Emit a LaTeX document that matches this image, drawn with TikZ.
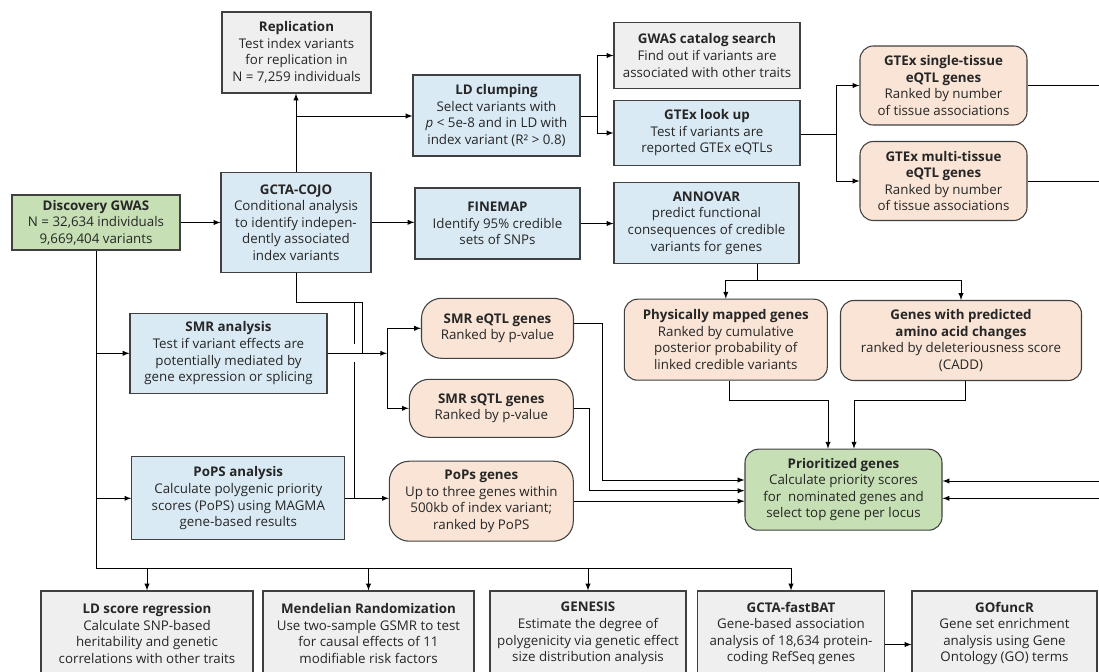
\documentclass[tikz,border=0pt]{standalone}
\usepackage{fontspec}
\setmainfont{Open Sans}
\usepackage{xcolor}
\definecolor{boxblue}{HTML}{DAEAF4}
\definecolor{boxgray}{HTML}{EFEFEF}
\definecolor{boxgreen}{HTML}{C6DFB4}
\definecolor{boxpeach}{HTML}{F9E4D6}
\definecolor{edge}{HTML}{404040}
\definecolor{ink}{HTML}{262626}

\begin{document}
\begin{tikzpicture}[x=0.75pt,y=-0.75pt,
  font=\fontsize{10}{12.4}\selectfont,
  box/.style={draw=edge,line width=0.8pt,align=center,inner sep=0pt,text=ink},
  bluebox/.style={box,fill=boxblue},
  graybox/.style={box,fill=boxgray},
  greenbox/.style={box,fill=boxgreen},
  genebox/.style={box,fill=boxpeach,rounded corners=10pt},
  pillbox/.style={genebox,rounded corners=15pt},
  link/.style={line width=0.75pt},
  arr/.style={link,-latex}]
\useasboundingbox (0,0) rectangle (1099,671);
\clip (0,0) rectangle (1099,671);

% discovery and follow-up
\node[greenbox,minimum width=126pt,minimum height=41.25pt] (disc) at (96,222.5)
  {\textbf{Discovery GWAS}\\N = 32,634 individuals\\9,669,404 variants};
\node[bluebox,minimum width=112.5pt,minimum height=75pt] (cojo) at (296,222.3)
  {\textbf{GCTA-COJO}\\Conditional analysis\\to identify indepen-\\dently associated\\index variants};
\node[graybox,minimum width=111.75pt,minimum height=60.75pt] (repl) at (296.5,52.5)
  {\textbf{Replication}\\Test index variants\\for replication in\\N = 7,259 individuals};
\node[bluebox,minimum width=125.25pt,minimum height=60.75pt] (ldc) at (496.5,115.5)
  {\textbf{LD clumping}\\Select variants with\\\textit{p} < 5e-8 and in LD with\\index variant (R² > 0.8)};
\node[graybox,minimum width=139.5pt,minimum height=49.5pt] (cat) at (707,55.5)
  {\textbf{GWAS catalog search}\\Find out if variants are\\associated with other traits};
\node[bluebox,minimum width=139.5pt,minimum height=48.75pt] (gtl) at (707,133)
  {\textbf{GTEx look up}\\Test if variants are\\reported GTEx eQTLs};
\node[bluebox,minimum width=123.75pt,minimum height=53.25pt] (fine) at (497.5,223.5)
  {\textbf{FINEMAP}\\Identify 95\% credible\\sets of SNPs};
\node[bluebox,minimum width=138.75pt,minimum height=60.75pt] (annov) at (706.5,223)
  {\textbf{ANNOVAR}\\predict functional\\consequences of credible\\variants for genes};
\node[genebox,minimum width=125.25pt,minimum height=59.25pt] (single) at (943.5,85.5)
  {\textbf{GTEx single-tissue}\\\textbf{eQTL genes}\\Ranked by number\\of tissue associations};
\node[genebox,minimum width=125.25pt,minimum height=59.25pt] (multi) at (943.5,181)
  {\textbf{GTEx multi-tissue}\\\textbf{eQTL genes}\\Ranked by number\\of tissue associations};

% gene nominating steps
\node[bluebox,minimum width=147.75pt,minimum height=60pt] (smr) at (228.5,353.3)
  {\textbf{SMR analysis}\\Test if variant effects are\\potentially mediated by\\gene expression or splicing};
\node[bluebox,minimum width=159.75pt,minimum height=62.25pt] (pops) at (238.3,498.3)
  {\textbf{PoPS analysis}\\Calculate polygenic priority\\scores (PoPS) using MAGMA\\gene-based results};
\node[pillbox,minimum width=114pt,minimum height=45pt] (eqtl) at (497.5,328.3)
  {\textbf{SMR eQTL genes}\\Ranked by p-value};
\node[pillbox,minimum width=123pt,minimum height=43.5pt] (sqtl) at (491.3,408.3)
  {\textbf{SMR sQTL genes}\\Ranked by p-value};
\node[pillbox,minimum width=138pt,minimum height=60pt] (popg) at (481.3,501.2)
  {\textbf{PoPs genes}\\Up to three genes within\\500kb of index variant;\\ranked by PoPS};
\node[genebox,minimum width=152.25pt,minimum height=60.75pt] (phys) at (725.8,339.7)
  {\textbf{Physically mapped genes}\\Ranked by cumulative\\posterior probability of\\linked credible variants};
\node[genebox,minimum width=180.75pt,minimum height=60pt] (pred) at (961,340.5)
  {\textbf{Genes with predicted}\\\textbf{amino acid changes}\\ranked by deleteriousness score\\(CADD)};
\node[genebox,fill=boxgreen,minimum width=147.75pt,minimum height=60.75pt] (prio) at (843.5,489.7)
  {\textbf{Prioritized genes}\\Calculate priority scores\\for~ nominated genes and\\select top gene per locus};

% downstream analyses
\node[graybox,minimum width=159pt,minimum height=63.75pt] (ldsr) at (147,633.5)
  {\textbf{LD score regression}\\Calculate SNP-based\\heritability and genetic\\correlations with other traits};
\node[graybox,minimum width=158.25pt,minimum height=63.75pt] (mr) at (368.5,633.5)
  {\textbf{Mendelian Randomization}\\Use two-sample GSMR to test\\for causal effects of 11\\modifiable risk factors};
\node[graybox,minimum width=147pt,minimum height=63.75pt] (genesis) at (588,633.5)
  {\textbf{GENESIS}\\Estimate the degree of\\polygenicity via genetic effect\\size distribution analysis};
\node[graybox,minimum width=140.25pt,minimum height=63.75pt] (fast) at (791,633.5)
  {\textbf{GCTA-fastBAT}\\Gene-based association\\analysis of 18,634 protein-\\coding RefSeq genes};
\node[graybox,minimum width=138.75pt,minimum height=63.75pt] (gof) at (1004.5,633.5)
  {\textbf{GOfuncR}\\Gene set enrichment\\analysis using Gene\\Ontology (GO) terms};

% junctions
\coordinate (ldsplit) at (597,116);
\coordinate (gtsplit) at (836,134);
\coordinate (anbend) at (757,280);
\coordinate (physin) at (828,400);
\coordinate (predin) at (854,400);
\coordinate (cojodrop) at (296,302);
\coordinate (jpops) at (354,302);
\coordinate (jsmr) at (362,302);
\coordinate (smrsplit) at (387,353.3);
\coordinate (eqin) at (602,480);
\coordinate (sqin) at (589,490.7);
\coordinate (busL) at (96,568.3);
\coordinate (busR) at (791,568.3);
\coordinate (ret1) at (1115,481);
\coordinate (ret2) at (1108,498.3);

\draw[arr] (disc.east) -- (disc.east -| cojo.west);
\draw[arr] (cojo.north) -- (cojo.north |- repl.south);
\draw[arr] (cojo.north |- ldsplit) -- (ldsplit -| ldc.west);
\draw[arr] (cojo.east) -- (cojo.east -| fine.west);
\draw[link] (ldc.east |- ldsplit) -- (ldsplit);
\draw[arr] (ldsplit) |- (cat.west);
\draw[arr] (ldsplit) |- (gtl.west);
\draw[link] (gtl.east |- gtsplit) -- (gtsplit);
\draw[arr] (gtsplit) |- (single.west);
\draw[arr] (gtsplit) |- (multi.west);
\draw[arr] (fine.east) -- (fine.east -| annov.west);
\draw[link] (anbend |- annov.south) -- (anbend);
\draw[arr] (anbend) -| (phys.north);
\draw[arr] (anbend) -| (pred.north);
\draw[arr] ([xshift=3pt]phys.south) |- (physin) -- (physin |- prio.north);
\draw[arr] ([xshift=3.5pt]pred.south) |- (predin) -- (predin |- prio.north);

% index variants into SMR and PoPS
\draw[link] (cojo.south) -- (cojodrop) -- (jsmr) -- (jsmr |- smr.east);
\draw[link] (jpops) -- (354,344);
\draw[link] (354,362) -- (jpops |- pops.east);
\draw[arr] (disc.south |- smr.west) -- (smr.west);
\draw[arr] (disc.south |- pops.west) -- (pops.west);
\draw[arr] (smr.east) -- (smrsplit);
\draw[arr] (smrsplit) |- (eqtl.west);
\draw[arr] (smrsplit) |- (sqtl.west);
\draw[arr] (pops.east) -- (pops.east -| popg.west);

% into prioritized genes
\draw[arr] ([yshift=3.75pt]eqtl.east) -| (eqin) -- (eqin -| prio.west);
\draw[arr] (sqtl.east) -| (sqin) -- (sqin -| prio.west);
\draw[arr] (popg.east) -- (popg.east -| prio.west);
\draw[arr] (single.east) -| (ret1) -- (ret1 -| prio.east);
\draw[arr] (multi.east) -| (ret2) -- (ret2 -| prio.east);

% downstream
\draw[link] (disc.south) -- (busL) -- (busR);
\draw[arr] (ldsr.north |- busL) -- (ldsr.north);
\draw[arr] (mr.north |- busL) -- (mr.north);
\draw[arr] (genesis.north |- busL) -- (genesis.north);
\draw[arr] (busR) -- (busR |- fast.north);
\draw[arr] ([yshift=-8.25pt]fast.east) -- ([yshift=-8.25pt]fast.east -| gof.west);
\end{tikzpicture}
\end{document}
